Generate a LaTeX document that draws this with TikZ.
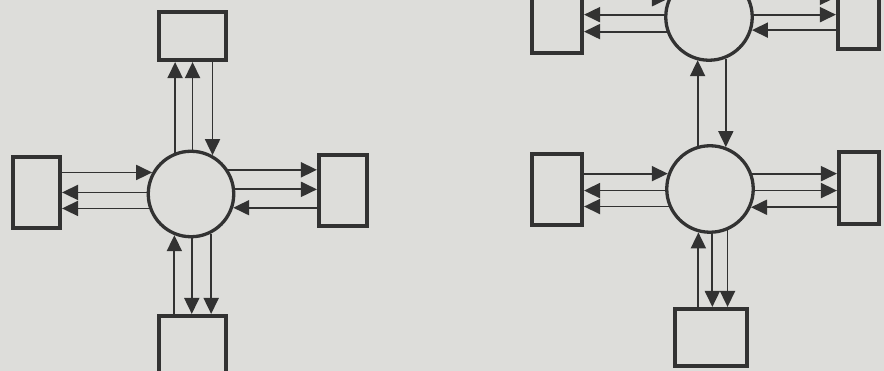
\documentclass[tikz,border=0pt]{standalone}
\usetikzlibrary{arrows.meta}
\definecolor{bg}{RGB}{221,221,218}
\definecolor{ink}{RGB}{50,50,50}
\tikzset{
 box/.style={draw=ink, line width=3.6pt, inner sep=0pt},
 hub/.style={circle, draw=ink, line width=3.3pt, inner sep=0pt, minimum size=#1},
 flow/.style={draw=ink, line width=1.8pt, -{Triangle[length=16pt,width=15pt]}},
}
\begin{document}
\begin{tikzpicture}[x=1pt,y=1pt]
\fill[bg] (0,0) rectangle (884,-371);
\clip (0,0) rectangle (884,-371);
% left diagram
\node[hub=85.5pt] (A) at (191,-194) {};
\node[box, minimum width=67.5pt, minimum height=48.5pt] (AT) at (192.5,-36) {};
\node[box, minimum width=47.5pt, minimum height=71.5pt] (AL) at (36.5,-192.5) {};
\node[box, minimum width=48.5pt, minimum height=71.5pt] (AR) at (343,-190.5) {};
\node[box, minimum width=67.5pt, minimum height=71.5pt] (AB) at (192.5,-351.5) {};
\draw[flow] (A.111.3) -- (A.111.3 |- AT.south);
\draw[flow] (A.88.7) -- (A.88.7 |- AT.south);
\draw[flow] (AT.south -| A.61.5) -- (A.61.5);
\draw[flow] (AL.east |- A.151.5) -- (A.151.5);
\draw[flow] (A.178.7) -- (AL.east |- A.178.7);
\draw[flow] (A.199.9) -- (AL.east |- A.199.9);
\draw[flow] (A.33.1) -- (AR.west |- A.33.1);
\draw[flow] (A.6.5) -- (AR.west |- A.6.5);
\draw[flow] (AR.west |- A.342.8) -- (A.342.8);
\draw[flow] (AB.north -| A.248.7) -- (A.248.7);
\draw[flow] (A.271.3) -- (AB.north -| A.271.3);
\draw[flow] (A.297) -- (AB.north -| A.297);
% right diagram
\node[hub=86.5pt] (B) at (709,-17) {};
\node[hub=86.5pt] (C) at (710,-189) {};
\node[box, minimum width=50.5pt, minimum height=71.5pt] (BL) at (557,-17.5) {};
\node[box, minimum width=41.5pt, minimum height=71.5pt] (BR) at (858.5,-13.5) {};
\node[box, minimum width=50.5pt, minimum height=71.5pt] (CL) at (557,-189.5) {};
\node[box, minimum width=40.5pt, minimum height=72.5pt] (CR) at (859,-188) {};
\node[box, minimum width=72.5pt, minimum height=57.5pt] (CB) at (711,-337.5) {};
\draw[flow] (BL.east |- B.156.4) -- (B.156.4);
\draw[flow] (B.177.5) -- (BL.east |- B.177.5);
\draw[flow] (B.199.5) -- (BL.east |- B.199.5);
\draw[flow] (B.26.4) -- (BR.west |- B.26.4);
\draw[flow] (B.3.8) -- (BR.west |- B.3.8);
\draw[flow] (BR.west |- B.343.2) -- (B.343.2);
\draw[flow] (C.106.8) -- (C.106.8 |- B.254.5);
\draw[flow] (B.292.2) -- (B.292.2 |- C.69.2);
\draw[flow] (CL.east |- C.160.5) -- (C.160.5);
\draw[flow] (C.182.5) -- (CL.east |- C.182.5);
\draw[flow] (C.203.6) -- (CL.east |- C.203.6);
\draw[flow] (C.20.8) -- (CR.west |- C.20.8);
\draw[flow] (C.358.7) -- (CR.west |- C.358.7);
\draw[flow] (CR.west |- C.336.4) -- (C.336.4);
\draw[flow] (CB.north -| C.255.9) -- (C.255.9);
\draw[flow] (C.273.8) -- (CB.north -| C.273.8);
\draw[flow] (C.293.6) -- (CB.north -| C.293.6);
\end{tikzpicture}
\end{document}
